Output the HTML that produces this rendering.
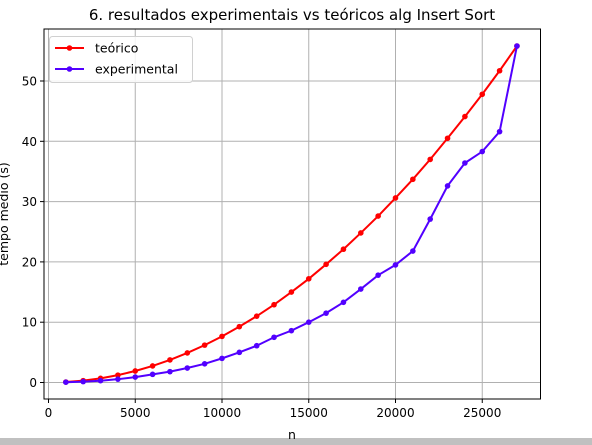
<!DOCTYPE html>
<html><head><meta charset="utf-8"><style>
html,body{margin:0;background:#fff;width:592px;height:445px;overflow:hidden;font-family:"DejaVu Sans","Liberation Sans",sans-serif}
svg{display:block}
</style></head><body>
<svg id="chart" width="592" height="445" xmlns="http://www.w3.org/2000/svg" font-family="DejaVu Sans, Liberation Sans, sans-serif">
<rect x="0" y="438" width="592" height="7" fill="#c0c0c0"/>
<g id="grid"></g><g id="series"></g><g id="axes"></g>
</svg>
<script>
const nVals=[1000,2000,3000,4000,5000,6000,7000,8000,9000,10000,11000,12000,13000,14000,15000,16000,17000,18000,19000,20000,21000,22000,23000,24000,25000,26000,27000];
const teorico=[0.08,0.31,0.69,1.22,1.91,2.75,3.75,4.9,6.2,7.65,9.26,11.0,12.9,15.0,17.2,19.6,22.1,24.8,27.6,30.6,33.7,37.0,40.5,44.1,47.8,51.7,55.8];
const experimental=[0.05,0.15,0.3,0.55,0.9,1.35,1.8,2.4,3.1,4.0,5.0,6.1,7.5,8.6,10.0,11.5,13.3,15.5,17.8,19.5,21.8,27.1,32.6,36.4,38.3,41.6,55.8];
const xTicks=[0,5000,10000,15000,20000,25000];
const yTicks=[0,10,20,30,40,50];
const L=44,R=540.5,T=29,B=399;
const X=v=>48.5+v*0.01735;
const Y=v=>382.5-v*6.03;
const NS='http://www.w3.org/2000/svg';
function mk(parent,tag,attrs,text){const e=document.createElementNS(NS,tag);for(const k in attrs)e.setAttribute(k,attrs[k]);if(text!==undefined)e.textContent=text;document.getElementById(parent).appendChild(e);return e;}
xTicks.forEach(t=>{
 const g=mk('grid','line',{x1:X(t),x2:X(t),y1:T,y2:B,stroke:'#b0b0b0','stroke-width':1});
 
 
 const tk=mk('axes','line',{x1:X(t),x2:X(t),y1:B,y2:B+4,stroke:'#000'});
 
 
 const lb=mk('axes','text',{x:X(t),y:B+18,'text-anchor':'middle','font-size':'12'},String(t));
 
 
});
yTicks.forEach(t=>{
 const g=mk('grid','line',{x1:L,x2:R,y1:Y(t),y2:Y(t),stroke:'#b0b0b0','stroke-width':1});
 
 
 const tk=mk('axes','line',{x1:L-4,x2:L,y1:Y(t),y2:Y(t),stroke:'#000'});
 
 
 const lb=mk('axes','text',{x:L-7,y:Y(t)+4.5,'text-anchor':'end','font-size':'12'},String(t));
 
 
});
function drawSeries(vals,color,name){
 const pts=vals.map((v,i)=>X(nVals[i])+','+Y(v)).join(' ');
 const pl=mk('series','polyline',{points:pts,fill:'none',stroke:color,'stroke-width':2});
 
 
 vals.forEach((v,i)=>{
  const c=mk('series','circle',{cx:X(nVals[i]),cy:Y(v),r:2.8,fill:color});
  
  
 });
}
drawSeries(teorico,'#ff0000','teorico');
drawSeries(experimental,'#5200ff','experimental');
const fr=mk('axes','rect',{x:L,y:T,width:R-L,height:B-T,fill:'none',stroke:'#000','stroke-width':1});


const ti=mk('axes','text',{x:292,y:20,'text-anchor':'middle','font-size':'15'},'6. resultados experimentais vs teóricos alg Insert Sort');


const xl=mk('axes','text',{x:292,y:439,'text-anchor':'middle','font-size':'12.5'},'n');


const yl=mk('axes','text',{x:0,y:0,'text-anchor':'middle','font-size':'12.5',transform:'translate(8,214) rotate(-90)'},'tempo médio (s)');


const lg=mk('axes','rect',{x:49.5,y:36.5,width:143,height:46,rx:3,fill:'#fff','fill-opacity':0.85,stroke:'#d0d0d0'});


[['teórico','#ff0000',48],['experimental','#5200ff',69]].forEach(([t,c,y])=>{
 const ln=mk('axes','line',{x1:55,x2:84,y1:y,y2:y,stroke:c,'stroke-width':2});
 
 
 const d=mk('axes','circle',{cx:69.5,cy:y,r:2.8,fill:c});
 
 
 const tx=mk('axes','text',{x:95,y:y+4.5,'font-size':'12.5'},t);
 
 
});
</script>
</body></html>
